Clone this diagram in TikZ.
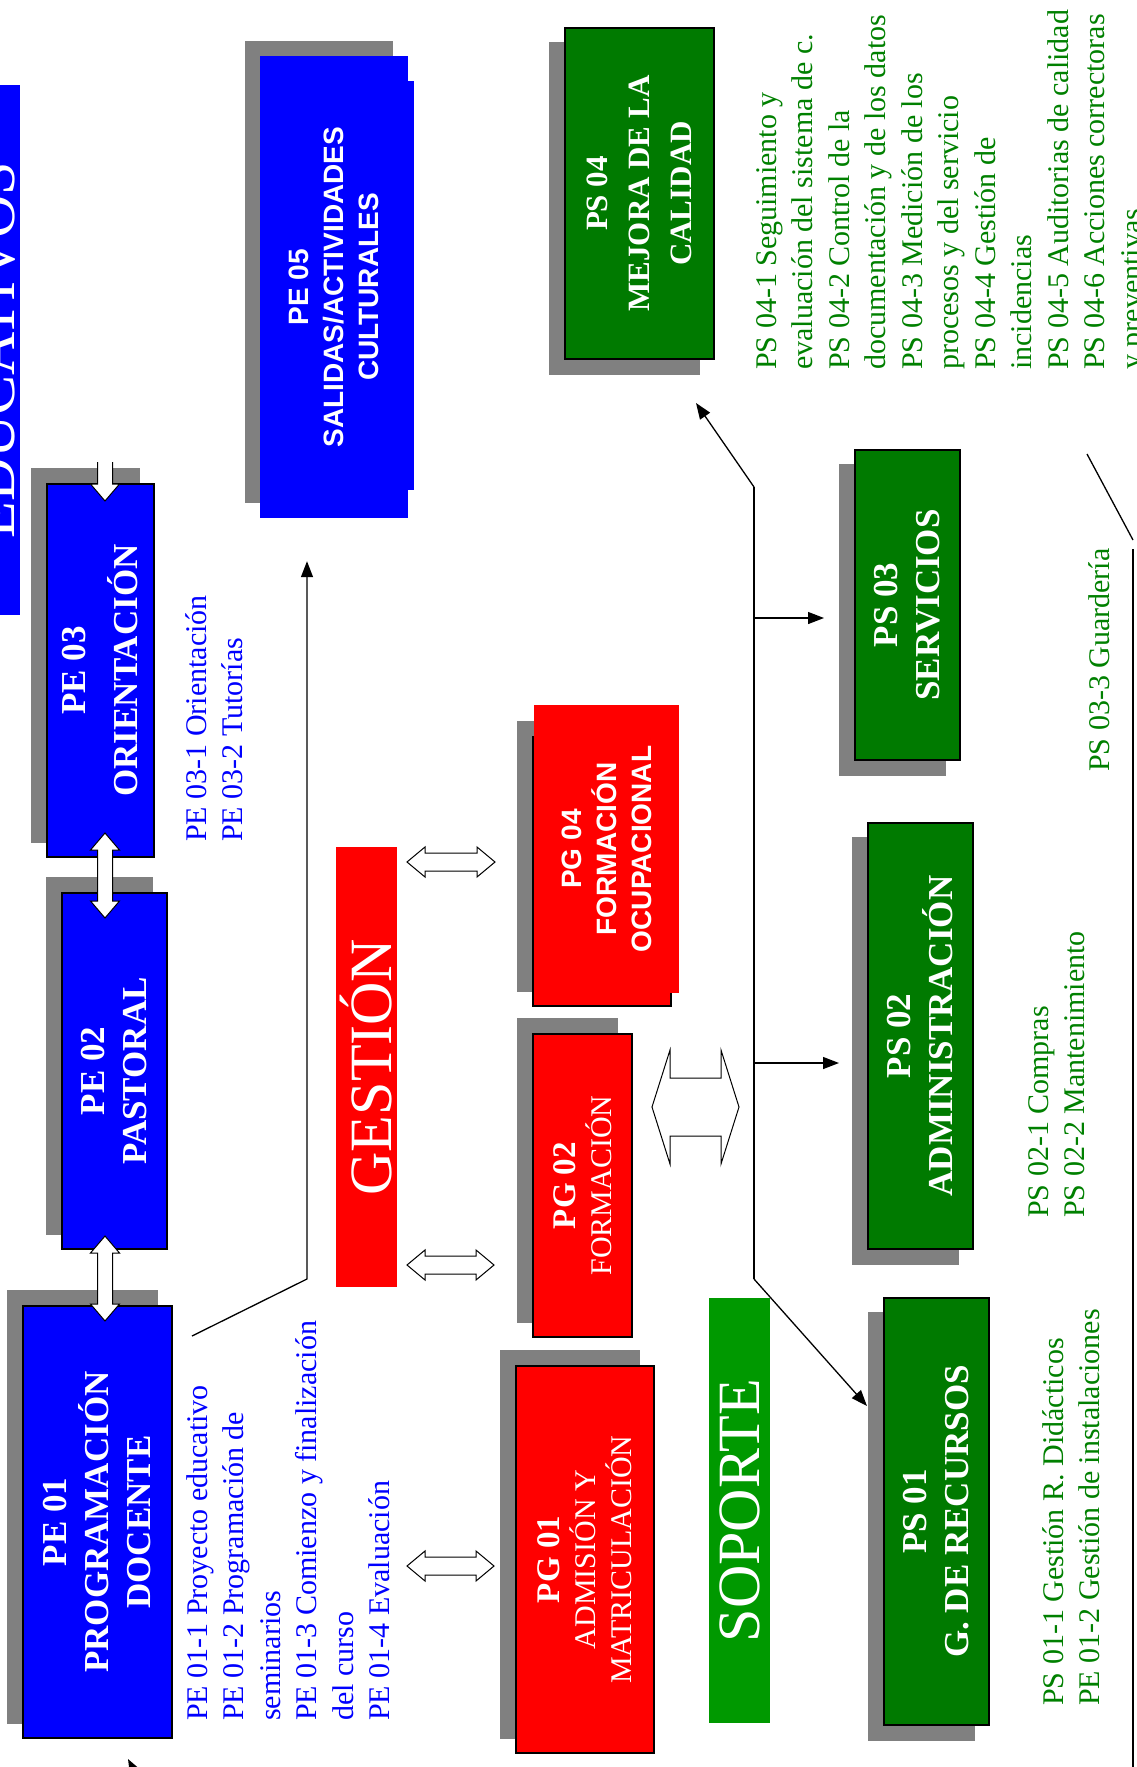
\documentclass[tikz,border=0pt]{standalone}
\usepackage{fontspec}
\setmainfont{Liberation Serif}
\setsansfont{Liberation Sans}
\usetikzlibrary{arrows.meta,backgrounds}

\definecolor{peblue}{RGB}{0,0,255}
\definecolor{pgred}{RGB}{255,0,0}
\definecolor{psgreen}{RGB}{0,122,0}
\definecolor{soportegreen}{RGB}{0,153,0}
\definecolor{listgreen}{RGB}{0,128,0}
\definecolor{shadowgray}{RGB}{128,128,128}

\newcommand{\labelfont}{\fontsize{35}{42}\selectfont\bfseries}
\newcommand{\qualityfont}{\fontsize{31}{42}\selectfont\bfseries}
\newcommand{\boxsans}{\sffamily\bfseries\fontsize{28}{35}\selectfont}
\newcommand{\bannerfont}{\fontsize{60}{60}\selectfont}
\newcommand{\gestfont}{\fontsize{30}{36}\selectfont}
\newcommand{\listfont}{\fontsize{30}{36.5}\selectfont}

\begin{document}
\begin{tikzpicture}[x=1pt, y=-1pt,
  box/.style={draw=black, line width=1.5pt, inner sep=0pt, rotate=90, text=white, align=center},
  flat/.style={inner sep=0pt, rotate=90, text=white, align=center},
  items/.style={inner sep=0pt, rotate=90, anchor=north west, align=left, font=\listfont},
  conn/.style={line width=1.3pt},
  arr/.style={conn, -{Triangle[length=16pt,width=12pt]}},
  blockline/.style={draw=black, fill=white, line width=1pt, line join=miter},
  pics/twoway/.style n args={4}{code={
    \path[blockline] (-#1,0) -- (-#1+#4,-#2) -- (-#1+#4,-#3) -- (#1-#4,-#3) -- (#1-#4,-#2) -- (#1,0)
      -- (#1-#4,#2) -- (#1-#4,#3) -- (-#1+#4,#3) -- (-#1+#4,#2) -- cycle;
  }},
]
\useasboundingbox (0,0) rectangle (1136,1767);
\clip (0,0) rectangle (1136,1767);

\node[flat, fill=peblue, minimum width=530pt, minimum height=50pt, font=\bannerfont] (educ) at (-5,350) {EDUCATIVOS};

\node[box, fill=peblue, minimum width=373pt, minimum height=107pt, font=\labelfont] (pe03) at (100.5,670.5) {PE 03\\[10pt]ORIENTACIÓN};
\node[box, fill=peblue, minimum width=356pt, minimum height=105pt, font=\labelfont] (pe02) at (114.5,1071) {PE 02\\PASTORAL};
\node[box, fill=peblue, minimum width=432pt, minimum height=149pt, font=\labelfont] (pe01) at (97.5,1522) {PE 01\\PROGRAMACIÓN\\DOCENTE};
\fill[peblue] (406,81) rectangle (414,490);
\node[flat, fill=peblue, minimum width=462pt, minimum height=148pt, font=\boxsans] (pe05) at (334,287) {PE 05\\SALIDAS/ACTIVIDADES\\CULTURALES};

\node[items, text=peblue] (pe03list) at (185,842) {PE 03-1 Orientación\\PE 03-2 Tutorías};
\node[items, text=peblue] (pe01list) at (186,1721) {PE 01-1 Proyecto educativo\\PE 01-2 Programación de\\seminarios\\PE 01-3 Comienzo y finalización\\del curso\\PE 01-4 Evaluación};

\node[flat, fill=pgred, minimum width=440pt, minimum height=61pt, font=\bannerfont] (gestion) at (366.5,1067) {GESTIÓN};
\node[box, fill=pgred, minimum width=269pt, minimum height=138pt] (pg04back) at (602,871.5) {};
\node[flat, fill=pgred, minimum width=288pt, minimum height=145pt, font=\boxsans] (pg04) at (606.5,849) {PG 04\\FORMACIÓN\\OCUPACIONAL};
\node[box, fill=pgred, minimum width=303pt, minimum height=99pt, font=\gestfont] (pg02) at (582.5,1185.5) {{\bfseries\fontsize{33}{38}\selectfont PG 02}\\FORMACIÓN};
\node[box, fill=pgred, minimum width=387pt, minimum height=138pt, font=\gestfont] (pg01) at (585,1559.5) {{\bfseries\fontsize{33}{36}\selectfont PG 01}\\ADMISIÓN Y\\MATRICULACIÓN};

\node[flat, fill=soportegreen, minimum width=425pt, minimum height=61pt, font=\bannerfont] (soporte) at (739.5,1510.5) {SOPORTE};

\node[box, fill=psgreen, minimum width=331pt, minimum height=149pt, font=\qualityfont] (ps04) at (639.5,193.5) {PS 04\\MEJORA DE LA\\CALIDAD};
\node[box, fill=psgreen, minimum width=310pt, minimum height=105pt, font=\labelfont] (ps03) at (907.5,605) {PS 03\\SERVICIOS};
\node[box, fill=psgreen, minimum width=426pt, minimum height=105pt, font=\labelfont] (ps02) at (920.5,1036) {PS 02\\ADMINISTRACIÓN};
\node[box, fill=psgreen, minimum width=427pt, minimum height=105pt, font=\labelfont] (ps01) at (936.5,1511.5) {PS 01\\G. DE RECURSOS};

\node[items, text=listgreen] (ps04list) at (756,370) {PS 04-1 Seguimiento y\\evaluación del sistema de c.\\PS 04-2 Control de la\\documentación y de los datos\\PS 04-3 Medición de los\\procesos y del servicio\\PS 04-4 Gestión de\\incidencias\\PS 04-5 Auditorias de calidad\\PS 04-6 Acciones correctoras\\y preventivas};
\node[items, text=listgreen] (ps03list) at (1088,772) {PS 03-3 Guardería};
\node[items, text=listgreen] (ps02list) at (1028,1218) {PS 02-1 Compras\\PS 02-2 Mantenimiento};
\node[items, text=listgreen] (ps01list) at (1042,1706) {PS 01-1 Gestión R. Didácticos\\PE 01-2 Gestión de instalaciones};

\begin{scope}[on background layer]
  \foreach \b in {pe01,pe02,pe03,pe05,pg01,pg02,pg04back}
    \fill[shadowgray] ([shift={(-15,-15)}]\b.south west) rectangle ([shift={(-15,-15)}]\b.north east);
  \foreach \b in {ps01,ps02,ps03,ps04}
    \fill[shadowgray] ([shift={(-15,15)}]\b.south west) rectangle ([shift={(-15,15)}]\b.north east);
\end{scope}

\path[blockline] (97.5,462) -- (97.5,484) -- (90.5,484) -- (105,501) -- (119.5,484) -- (112.5,484) -- (112.5,462);
\pic[rotate=90] at (105,875.5) {twoway={42.5}{14.5}{7.5}{17}};
\pic[rotate=90] at (105,1278.5) {twoway={42.5}{14.5}{7.5}{17}};
\pic at (451,862) {twoway={44}{15}{9}{18}};
\pic at (450.5,1265) {twoway={43.5}{15}{9}{18}};
\pic at (450.5,1566) {twoway={43.5}{15}{9}{18}};
\pic at (695.5,1107) {twoway={43.5}{57}{29}{18}};

\coordinate (pe01link) at (192,1336);
\coordinate (pe05bend) at (307,1279);
\draw[arr, shorten >=43pt] (pe01link) -- (pe05bend) -- (pe05bend |- pe05.west);

\coordinate (bustop) at (754,487);
\coordinate (busbot) at (754,1279);
\coordinate (ps04tip) at (696,403);
\coordinate (ps03tip) at (824,618);
\coordinate (ps02tip) at (839,1063);
\coordinate (ps01tip) at (867,1406);
\draw[conn] (bustop) -- (busbot);
\draw[arr] (bustop) -- (ps04tip);
\draw[arr] (ps03tip -| bustop) -- (ps03tip);
\draw[arr] (ps02tip -| bustop) -- (ps02tip);
\draw[arr] (busbot) -- (ps01tip);

\draw[conn] (1087,454) -- (1133,540);
\draw[conn] (1133,549) -- (1133,1767);
\draw[arr] (150,1800) -- (128,1759);
\end{tikzpicture}
\end{document}
